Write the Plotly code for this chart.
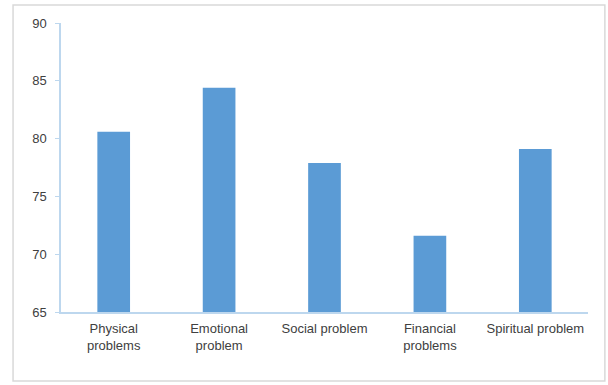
import plotly.graph_objects as go

categories = ["Physical<br>problems", "Emotional<br>problem", "Social problem",
              "Financial<br>problems", "Spiritual problem"]
values = [80.6, 84.4, 77.9, 71.6, 79.1]
y_ticks = [65, 70, 75, 80, 85, 90]

fig = go.Figure()
fig.add_trace(go.Bar(
    x=categories, y=values,
    marker=dict(color="#5b9bd5", line=dict(width=0)),
    width=0.31,
))

axis_col = "#bdd7ee"
fig.update_layout(
    width=608, height=385,
    margin=dict(l=61, r=20, t=23, b=73),
    paper_bgcolor="white", plot_bgcolor="white",
    showlegend=False,
    font=dict(family="Liberation Sans Narrow, Liberation Sans, sans-serif", size=13, color="#404040"),
    xaxis=dict(
        showline=True, linecolor=axis_col, linewidth=1.5,
        showgrid=False, ticks="", tickfont=dict(size=13),
        ticklabelstandoff=4,
    ),
    yaxis=dict(
        range=[65, 90], tickvals=y_ticks, showgrid=False,
        showline=True, linecolor=axis_col, linewidth=1.5,
        ticks="outside", ticklen=4, tickcolor=axis_col,
        tickfont=dict(size=13), zeroline=False,
        ticklabelstandoff=6,
    ),
    shapes=[dict(
        type="rect", xref="paper", yref="paper",
        x0=-0.091, x1=1.032, y0=-0.239, y1=1.062,
        line=dict(color="#d9d9d9", width=1.5), fillcolor="rgba(0,0,0,0)",
        layer="below",
    )],
)

fig.write_html("out.html")
